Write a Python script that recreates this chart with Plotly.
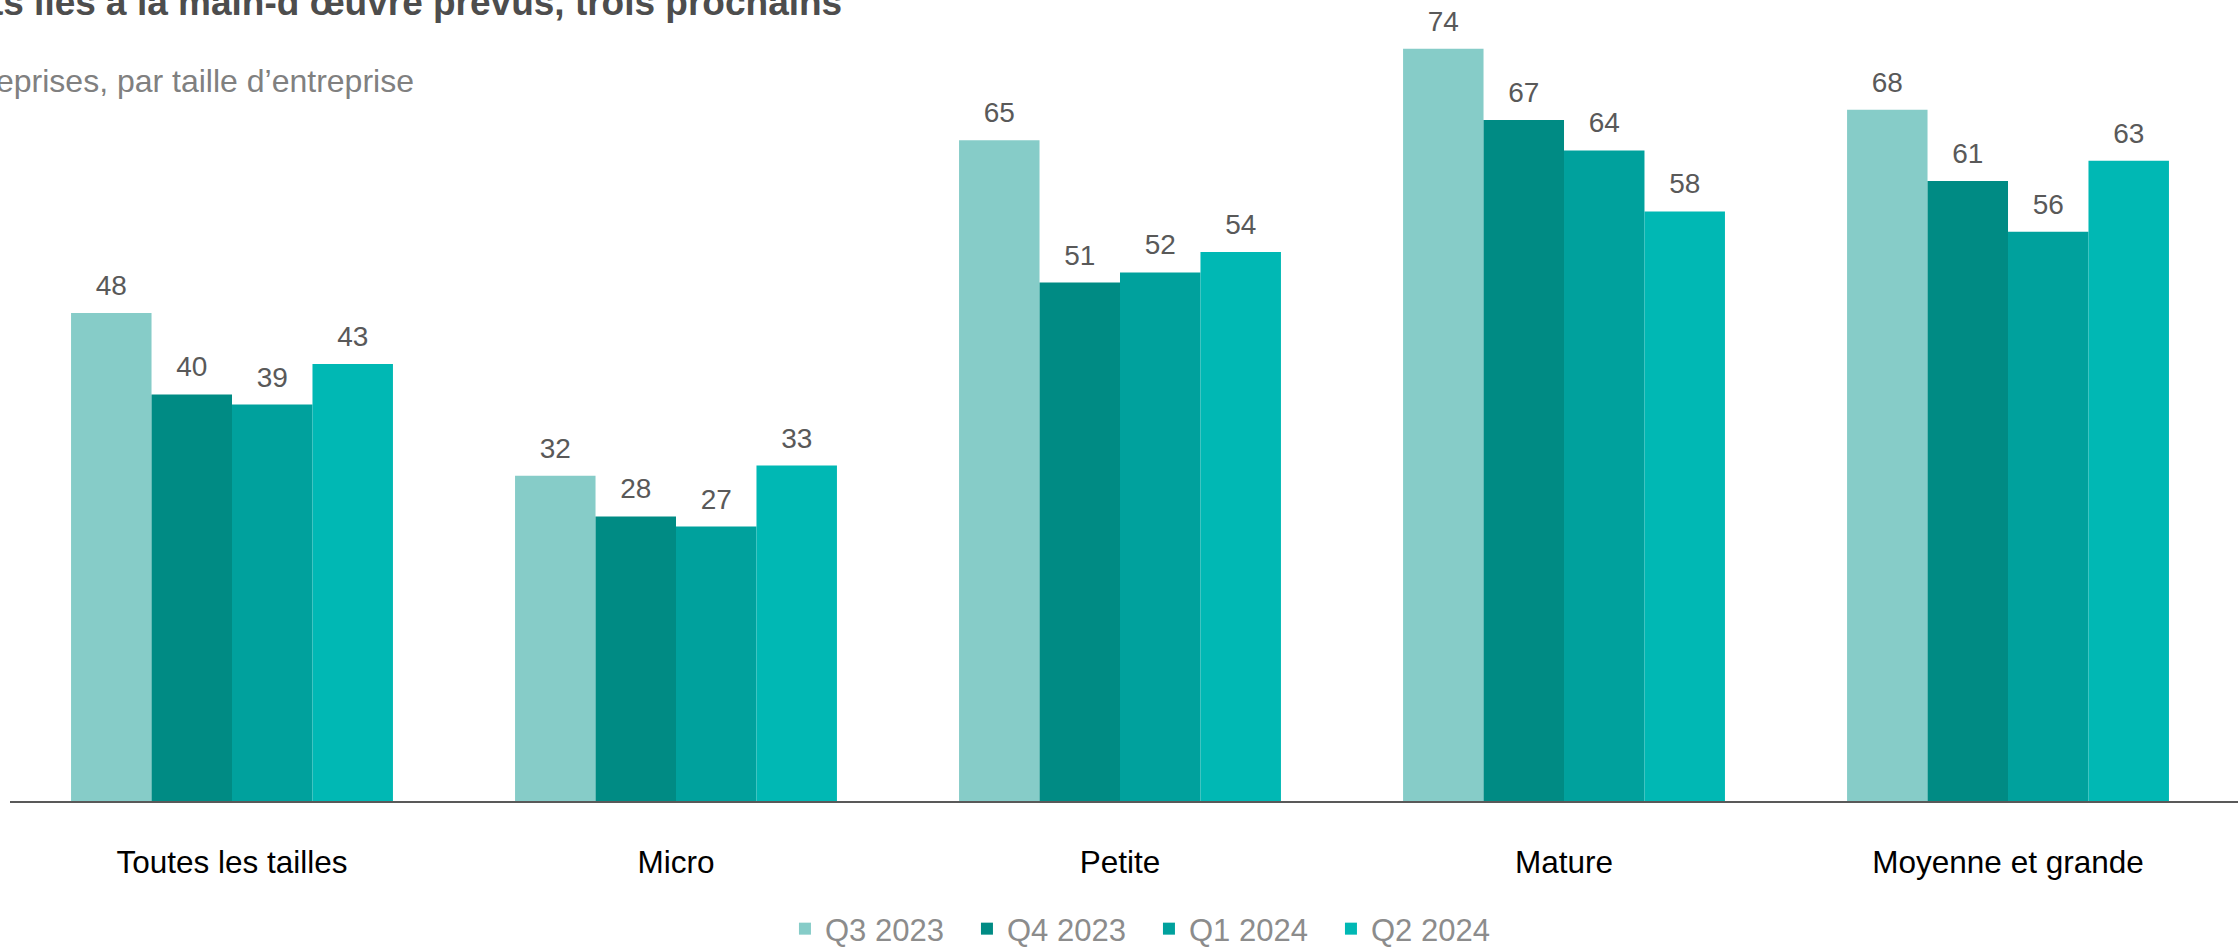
import plotly.graph_objects as go

# Data
sizes = ["Toutes les tailles", "Micro", "Petite", "Mature", "Moyenne et grande"]
quarters = ["Q3 2023", "Q4 2023", "Q1 2024", "Q2 2024"]
q3_2023 = [48, 32, 65, 74, 68]
q4_2023 = [40, 28, 51, 67, 61]
q1_2024 = [39, 27, 52, 64, 56]
q2_2024 = [43, 33, 54, 58, 63]

colors = ["#86CCC8", "#008B84", "#00A19D", "#00B8B4"]
series = [q3_2023, q4_2023, q1_2024, q2_2024]

FONT = "Arial, Liberation Sans, sans-serif"

fig = go.Figure()

for name, values, color in zip(quarters, series, colors):
    fig.add_trace(go.Bar(
        x=sizes, y=values, name=name,
        marker_color=color, marker_line_width=0,
        hoverinfo="skip",
    ))

# value labels, grouped like the bars so they sit above each one
for name, values in zip(quarters, series):
    fig.add_trace(go.Scatter(
        x=sizes, y=values, mode="markers+text",
        text=[str(v) for v in values], textposition="top center",
        textfont=dict(family=FONT, size=28, color="#595959"),
        marker=dict(size=16, opacity=0),
        showlegend=False, hoverinfo="skip", cliponaxis=False,
    ))

fig.update_layout(
    width=2238, height=947,
    template="plotly_white",
    plot_bgcolor="white", paper_bgcolor="white",
    barmode="group", bargap=0.275, bargroupgap=0,
    scattermode="group", scattergap=0.275,
    margin=dict(l=10, r=0, t=28, b=146),
    font=dict(family=FONT),
    # container ref so the legend does not push the bottom margin
    legend=dict(
        orientation="h", x=0.5112, xanchor="center",
        yref="container", y=0.019, yanchor="middle",
        font=dict(family=FONT, size=31, color="#8C8C8C"),
        entrywidth=137, entrywidthmode="pixels",
    ),
    annotations=[
        dict(text="<b>Coûts liés à la main-d’œuvre prévus, trois prochains</b>",
             xref="paper", yref="paper", x=0.3743, y=1.0039,
             xanchor="right", yanchor="bottom", showarrow=False,
             font=dict(family=FONT, size=37, color="#4D4D4D")),
        dict(text="% des entreprises, par taille d’entreprise",
             xref="paper", yref="paper", x=0.1822, y=0.906,
             xanchor="right", yanchor="bottom", showarrow=False,
             font=dict(family=FONT, size=32, color="#808080")),
    ],
)
fig.update_xaxes(
    showline=True, linecolor="#595959", linewidth=2,
    showgrid=False, ticks="", ticklabelstandoff=32,
    tickfont=dict(family=FONT, size=31.5, color="#000000"),
    range=[-0.5, 4.518],
)
fig.update_yaxes(
    range=[0, 76.05], showgrid=False, zeroline=False,
    showticklabels=False, showline=False,
)

# drop the default 8px body margin so the figure fills the window exactly
fig.write_html(
    "out.html",
    config={"displayModeBar": False},
    post_script="document.body.style.margin = '0';",
)
